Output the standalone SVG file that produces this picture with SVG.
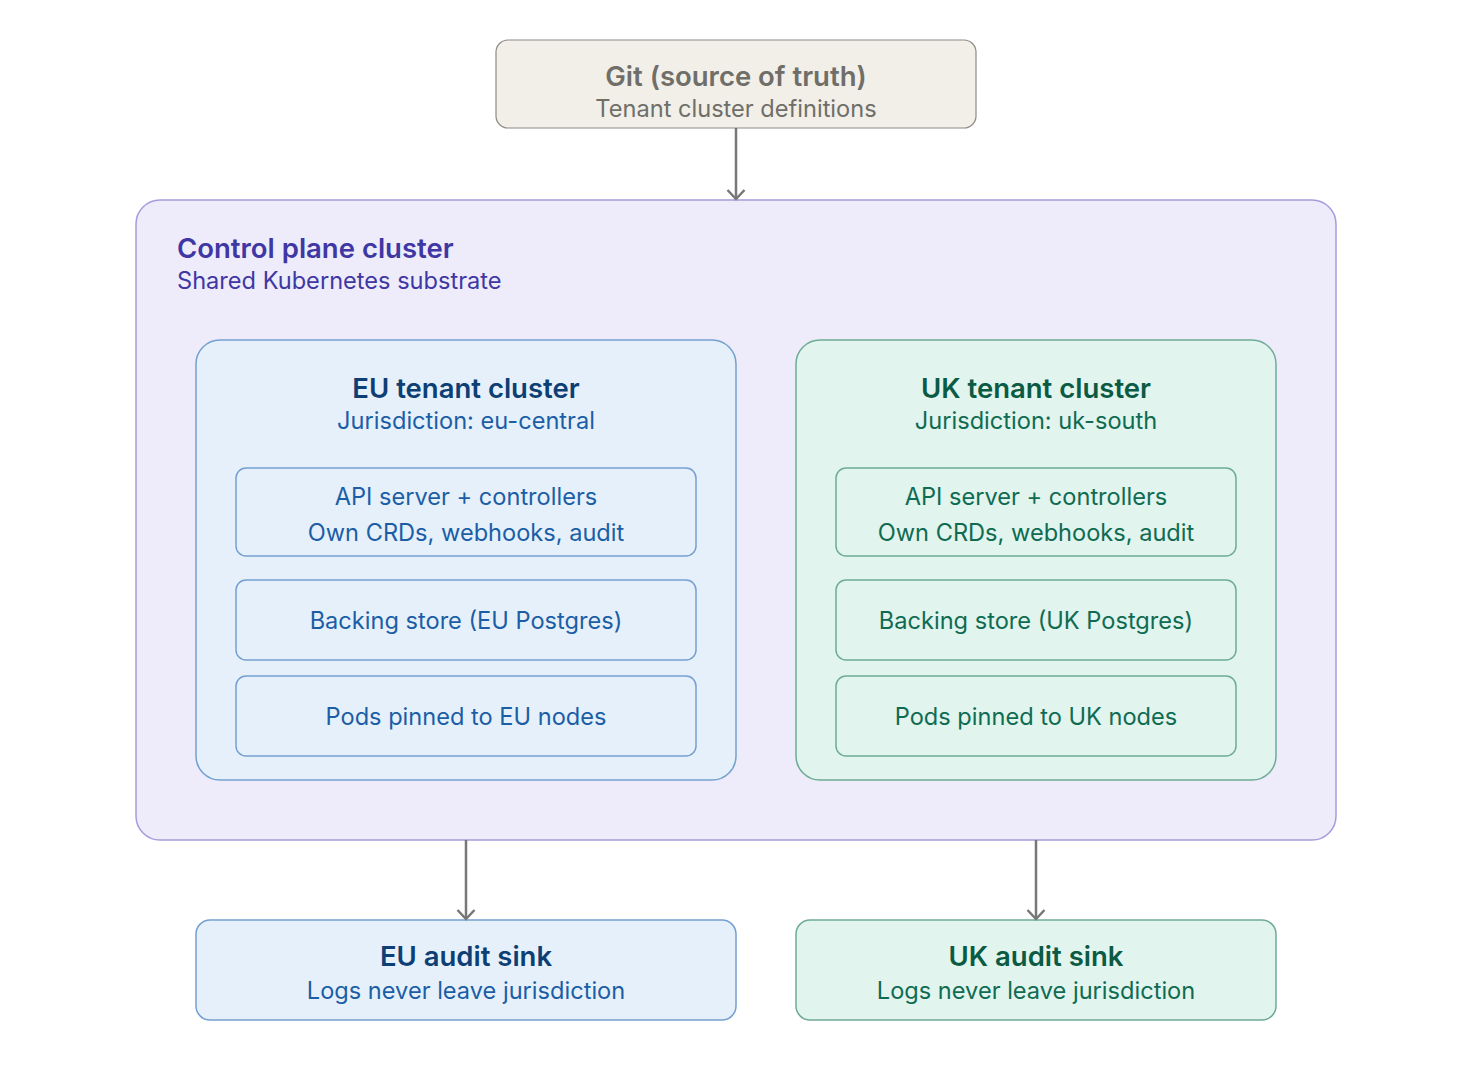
<svg xmlns="http://www.w3.org/2000/svg" width="1472" height="1080" viewBox="0 0 1472 1080">
<style>
text{font-family:Inter,"Noto Sans","Liberation Sans",sans-serif;text-anchor:middle}
.t{font-size:27.5px;font-weight:600}
.s{font-size:23.6px}
.b{font-size:23.6px}
.git rect{fill:#f1efe8;stroke:#8c8a84;stroke-width:1.2}
.git text{fill:#6f6e69}
.cp>rect{fill:#eeecfb;stroke:#a49ddb;stroke-width:1.5}
.cp text{fill:#3f37a3;text-anchor:start}
.eu rect{fill:#e6f0fa;stroke:#74a0cf;stroke-width:1.5}
.eu .t{fill:#0d3f75}
.eu text{fill:#1b5ea6}
.uk rect{fill:#e1f4ed;stroke:#6fab97;stroke-width:1.5}
.uk .t{fill:#0b5a44}
.uk text{fill:#0f6b52}
.c{stroke:#777;stroke-width:2.5;fill:none}
</style>
<defs>
<marker id="ah" markerWidth="14" markerHeight="20" refX="11" refY="10" orient="auto" markerUnits="userSpaceOnUse" viewBox="0 0 14 20">
<path d="M2 1.5 L11 10 L2 18.5" fill="none" stroke="#777" stroke-width="2.5"/>
</marker>
</defs>
<g id="git" class="git">
<rect x="496" y="40" width="480" height="88" rx="12"/>
<text class="t" x="736" y="86">Git (source of truth)</text>
<text class="s" x="736" y="117">Tenant cluster definitions</text>
</g>
<g id="control-plane" class="cp">
<rect x="136" y="200" width="1200" height="640" rx="24"/>
<text class="t" x="177" y="258">Control plane cluster</text>
<text class="s" x="177" y="289">Shared Kubernetes substrate</text>
</g>
<g id="eu-tenant" class="eu">
<rect x="196" y="340" width="540" height="440" rx="24"/>
<text class="t" x="466" y="398">EU tenant cluster</text>
<text class="s" x="466" y="429">Jurisdiction: eu-central</text>
</g>
<g id="eu-api" class="eu">
<rect x="236" y="468" width="460" height="88" rx="10"/>
<text class="b" x="466" y="505">API server + controllers</text>
<text class="b" x="466" y="541">Own CRDs, webhooks, audit</text>
</g>
<g id="eu-store" class="eu">
<rect x="236" y="580" width="460" height="80" rx="10"/>
<text class="b" x="466" y="629">Backing store (EU Postgres)</text>
</g>
<g id="eu-pods" class="eu">
<rect x="236" y="676" width="460" height="80" rx="10"/>
<text class="b" x="466" y="725">Pods pinned to EU nodes</text>
</g>
<g id="uk-tenant" class="uk">
<rect x="796" y="340" width="480" height="440" rx="24"/>
<text class="t" x="1036" y="398">UK tenant cluster</text>
<text class="s" x="1036" y="429">Jurisdiction: uk-south</text>
</g>
<g id="uk-api" class="uk">
<rect x="836" y="468" width="400" height="88" rx="10"/>
<text class="b" x="1036" y="505">API server + controllers</text>
<text class="b" x="1036" y="541">Own CRDs, webhooks, audit</text>
</g>
<g id="uk-store" class="uk">
<rect x="836" y="580" width="400" height="80" rx="10"/>
<text class="b" x="1036" y="629">Backing store (UK Postgres)</text>
</g>
<g id="uk-pods" class="uk">
<rect x="836" y="676" width="400" height="80" rx="10"/>
<text class="b" x="1036" y="725">Pods pinned to UK nodes</text>
</g>
<g id="eu-sink" class="eu">
<rect x="196" y="920" width="540" height="100" rx="14"/>
<text class="t" x="466" y="966">EU audit sink</text>
<text class="s" x="466" y="999">Logs never leave jurisdiction</text>
</g>
<g id="uk-sink" class="uk">
<rect x="796" y="920" width="480" height="100" rx="14"/>
<text class="t" x="1036" y="966">UK audit sink</text>
<text class="s" x="1036" y="999">Logs never leave jurisdiction</text>
</g>
<g id="connectors">
<line class="c" x1="736" y1="128" x2="736" y2="199" marker-end="url(#ah)"/>
<line class="c" x1="466" y1="840" x2="466" y2="919" marker-end="url(#ah)"/>
<line class="c" x1="1036" y1="840" x2="1036" y2="919" marker-end="url(#ah)"/>
</g>
</svg>
